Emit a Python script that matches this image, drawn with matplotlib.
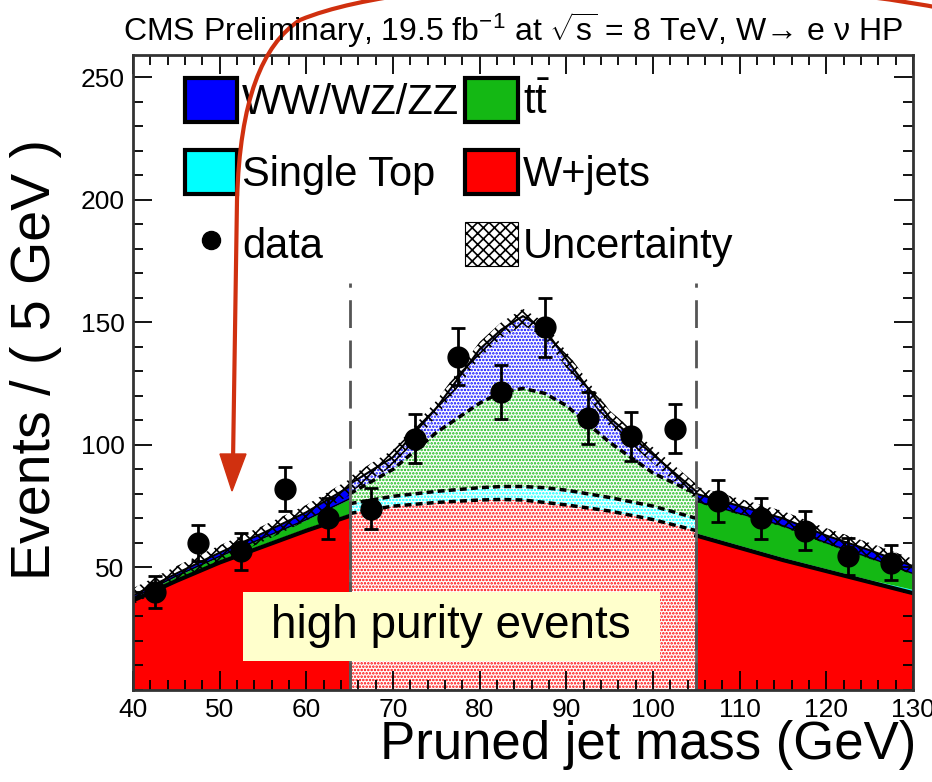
# -*- coding:utf-8 -*-
import numpy as np
import matplotlib.pyplot as plt
from matplotlib.patches import Patch, Polygon, PathPatch, Rectangle
from matplotlib.lines import Line2D
from matplotlib.path import Path
from matplotlib.transforms import IdentityTransform
from matplotlib.ticker import MultipleLocator

plt.rcParams['font.family'] = ['Liberation Sans', 'DejaVu Sans']
plt.rcParams['mathtext.fontset'] = 'custom'
plt.rcParams['mathtext.rm'] = 'Liberation Sans'
plt.rcParams['hatch.linewidth'] = 1.2

## stacked (cumulative) background curves, 65 and 105 repeated for the region edges
mass  = [40, 45, 50, 55, 60, 65, 65, 70, 75, 80, 82.5, 85, 87.5, 90, 95, 100, 105, 105, 110, 115, 120, 125, 130]
wjets = [36.5, 44.5, 52, 58.5, 65, 71, 72, 75, 76.5, 77.5, 77.7, 77.5, 76.5, 75.5, 73, 69.5, 65, 63, 58, 53, 48.5, 44, 39.5]
stop  = [37, 45.5, 53, 59.5, 66, 72, 76, 79, 81, 82.5, 83, 83, 82.5, 81.5, 78.5, 75, 70, 64, 59, 54, 49.5, 45, 41]
ttbar = [37.5, 46.5, 54.5, 62, 69.5, 78, 80, 90, 105, 117, 121.5, 123, 121, 116, 101, 88.5, 80, 77, 72, 67, 60, 54, 47.5]
total = [38.5, 47.5, 56, 64, 72.5, 83, 84, 95, 115, 139, 147, 152.5, 147, 135, 111, 96, 81, 80, 75, 70, 63, 57, 50.5]

data_x   = [42.5, 47.5, 52.5, 57.5, 62.5, 67.5, 72.5, 77.5, 82.5, 87.5, 92.5, 97.5, 102.5, 107.5, 112.5, 117.5, 122.5, 127.5]
data_y   = [40, 60, 56.5, 82, 70, 74, 102.5, 136, 121.5, 148, 111, 103.5, 106.5, 77, 70, 65, 54.5, 52]
data_err = [6.5, 7.5, 7.5, 9, 8.5, 8.5, 10, 11.5, 11, 12, 10.5, 10, 10, 8.5, 8.5, 8, 7.5, 7]

c_vv, c_st, c_tt, c_wj = '#0000FF', '#00FFFF', '#14B814', '#FF0000'

m = np.array(mass)
wj, st, tt, tot = np.array(wjets), np.array(stop), np.array(ttbar), np.array(total)
lo, sig, hi = slice(0, 6), slice(6, 17), slice(17, 23)

fig = plt.figure(figsize=(9.32, 7.82), dpi=100)
ax = fig.add_axes([133/932, 1-690/782, 780/932, 635/782])

## sidebands: solid stack
for s in (lo, hi):
    ax.fill_between(m[s], 0, wj[s], color=c_wj, lw=0)
    ax.fill_between(m[s], wj[s], st[s], color=c_st, lw=0)
    ax.fill_between(m[s], st[s], tt[s], color=c_tt, lw=0)
    ax.fill_between(m[s], tt[s], tot[s], color=c_vv, lw=0)
    ax.plot(m[s], wj[s], color='black', lw=3)
    ax.plot(m[s], tt[s], color='black', lw=1)

## signal region: dotted stack with dashed outlines
for low, high, col in ((0 * wj, wj, c_wj), (wj, st, c_st), (st, tt, c_tt), (tt, tot, c_vv)):
    ax.fill_between(m[sig], low[sig], high[sig], facecolor='white', edgecolor=col,
                    hatch='.....', lw=0)
for curve in (wj, st, tt):
    ax.plot(m[sig], curve[sig], color='black', lw=2.5, ls=(0, (2, 1.2)))

## uncertainty band
ax.fill_between(m, tot - 3.5, tot + 3, facecolor='none', edgecolor='black', hatch='xxx', lw=0)
ax.plot(m, tot, color='black', lw=1.5)

## region borders
ax.vlines([65, 105], 0, [tot[5], tot[17]], colors='#666666', lw=2)
ax.vlines([65, 105], 0, 166, colors='#555555', lw=2, linestyles=(0, (10, 4.5)))

ax.errorbar(data_x, data_y, yerr=data_err, fmt='o', color='black', ms=15,
            elinewidth=2, capsize=5, capthick=2, zorder=5)

ax.add_patch(Rectangle((52.7, 12), 48.1, 27.8, fc='#FFFFCC', ec='none', zorder=6))
ax.text(76.7, 26, 'high purity events', ha='center', va='center', fontsize=33, zorder=7)

ax.set_xlim(40, 130)
ax.set_ylim(0, 259)
ax.set_xticks(range(40, 131, 10))
ax.set_yticks(range(50, 251, 50))
ax.xaxis.set_minor_locator(MultipleLocator(2))
ax.yaxis.set_minor_locator(MultipleLocator(10))
ax.tick_params(which='both', direction='in', top=True, right=True, labelsize=19, width=1.3, pad=6)
ax.tick_params(which='major', length=14)
ax.tick_params(which='minor', length=7)
for sp in ax.spines.values():
    sp.set_linewidth(2)
    sp.set_color('#333333')

handles = [Patch(fc=c_vv, ec='black', lw=3), Patch(fc=c_st, ec='black', lw=3),
           Line2D([], [], marker='o', color='black', ls='none', ms=13),
           Patch(fc=c_tt, ec='black', lw=3), Patch(fc=c_wj, ec='black', lw=3),
           Patch(fc='white', ec='black', hatch='xxx', lw=0.8)]
labels = ['WW/WZ/ZZ', 'Single Top', 'data', r'$\mathrm{t\bar{t}}$', 'W+jets', 'Uncertainty']
ax.legend(handles, labels, ncol=2, loc='upper left', bbox_to_anchor=(0.04, 0.997),
          frameon=False, fontsize=30, handlelength=1.25, handleheight=1.25,
          handletextpad=0.12, columnspacing=0.15, labelspacing=0.65, borderpad=0)

fig.text(123/932, 1-30/782, r'CMS Preliminary, 19.5 fb$^{-1}$ at $\sqrt{\mathrm{s}}$ = 8 TeV, W→ e ν HP',
         fontsize=23, ha='left', va='center')
fig.text(36/932, 1-360/782, 'Events / ( 5 GeV )', fontsize=40, rotation=90, ha='center', va='center')
fig.text(916/932, 1-745/782, 'Pruned jet mass (GeV)', fontsize=38, ha='right', va='center')

## red pointer drawn over the slide
red = '#D0300F'
verts = [(945, 773), (760, 810), (420, 812), (300, 762), (262, 737), (240, 682), (237, 582), (233, 320)]
codes = [Path.MOVETO, Path.CURVE4, Path.CURVE4, Path.CURVE4, Path.CURVE4, Path.CURVE4, Path.CURVE4, Path.LINETO]
fig.patches.append(PathPatch(Path(verts, codes), fc='none', ec=red, lw=3, transform=IdentityTransform(), figure=fig))
fig.patches.append(Polygon([(220, 328), (246, 328), (232, 291)], closed=True, fc=red, ec=red,
                           transform=IdentityTransform(), figure=fig))

fig.savefig('out.png', dpi=100)
